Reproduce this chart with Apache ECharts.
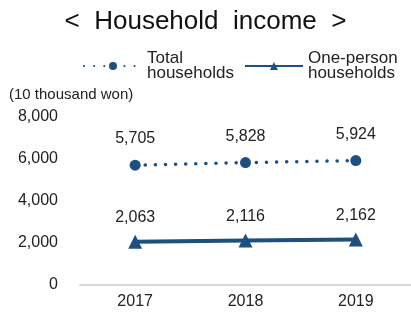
<!DOCTYPE html>
<html>
<head>
<meta charset="utf-8">
<script src="https://cdn.jsdelivr.net/npm/echarts@6/dist/echarts.min.js"></script>
<style>
  html, body { margin: 0; padding: 0; background: #fff; }
  #chart { width: 411px; height: 316px; }
</style>
</head>
<body>
<div id="chart"></div>
<script>
// data
const years = ['2017', '2018', '2019'];
const totalHouseholds = [5705, 5828, 5924];
const onePerson = [2063, 2116, 2162];

const blue = '#1d4f7f';
const fmt = v => v.toLocaleString('en-US');

let myChart = echarts.init(document.getElementById('chart'));

let option = {
  animation: false,
  title: {
    text: '<  Household  income  >',
    left: 'center',
    top: 4,
    textStyle: { fontFamily: 'Liberation Sans', fontSize: 26, fontWeight: 'normal', color: '#111' }
  },
  legend: {
    top: 45,
    left: 78,
    itemWidth: 58,
    itemHeight: 10,
    itemGap: 10,
    textStyle: { fontFamily: 'Liberation Sans', fontSize: 17, lineHeight: 15, color: '#222' },
    data: [
      { name: 'Total\nhouseholds' },
      { name: 'One-person\nhouseholds' }
    ]
  },
  graphic: [{
    type: 'text',
    left: 9,
    top: 87,
    style: { text: '(10 thousand won)', font: '15px Liberation Sans', fill: '#222' }
  }],
  grid: { left: 80, right: 0, top: 117, bottom: 31 },
  xAxis: {
    type: 'category',
    data: years,
    axisLine: { lineStyle: { color: '#d9d9d9', width: 2 } },
    axisTick: { show: false },
    axisLabel: { fontFamily: 'Liberation Sans', fontSize: 16, color: '#222', margin: 9 }
  },
  yAxis: {
    type: 'value',
    min: 0,
    max: 8000,
    interval: 2000,
    splitLine: { show: false },
    axisLine: { show: false },
    axisLabel: {
      fontFamily: 'Liberation Sans', fontSize: 16, color: '#222', margin: 22,
      formatter: fmt
    }
  },
  series: [
    {
      name: 'Total\nhouseholds',
      type: 'line',
      data: totalHouseholds,
      symbol: 'circle',
      symbolSize: 11,
      itemStyle: { color: blue },
      lineStyle: { color: blue, width: 3.5, type: [0.1, 10], cap: 'round' },
      label: {
        show: true, position: 'top', distance: 13,
        fontFamily: 'Liberation Sans', fontSize: 16, color: '#222',
        formatter: p => fmt(p.value)
      }
    },
    {
      name: 'One-person\nhouseholds',
      type: 'line',
      data: onePerson,
      symbol: 'triangle',
      symbolSize: 14,
      itemStyle: { color: blue },
      lineStyle: { color: blue, width: 4 },
      label: {
        show: true, position: 'top', distance: 9,
        fontFamily: 'Liberation Sans', fontSize: 16, color: '#222',
        formatter: p => fmt(p.value)
      }
    }
  ]
};

myChart.setOption(option);
</script>
</body>
</html>
